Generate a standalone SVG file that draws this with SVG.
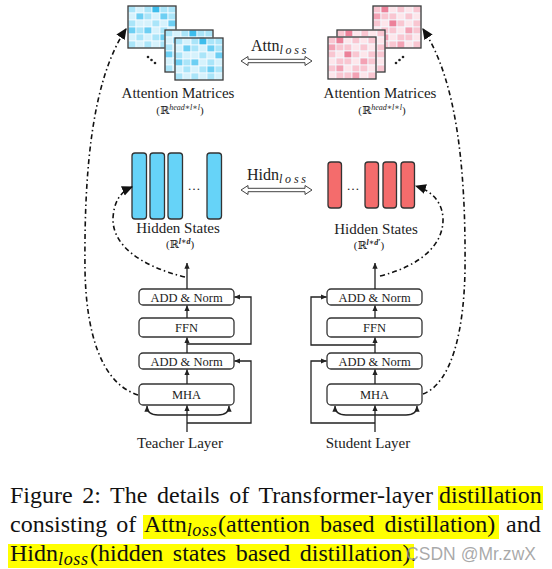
<svg xmlns="http://www.w3.org/2000/svg" width="552" height="569" viewBox="0 0 552 569">
<style>
.lbl{font-family:"Liberation Serif","DejaVu Serif",serif;fill:#222;}
.box{fill:#fff;stroke:#333;stroke-width:1.3;}
.bt{font-family:"Liberation Serif","DejaVu Serif",serif;font-size:12.5px;fill:#222;text-anchor:middle;}
.ln{fill:none;stroke:#222;stroke-width:1.3;}
.dd{fill:none;stroke:#111;stroke-width:1.6;stroke-dasharray:5 3 1.5 3;}
.bbar{fill:#66d3f8;stroke:#333;stroke-width:1.3;}
.rbar{fill:#f46c6c;stroke:#333;stroke-width:1.3;}
.cap{font-family:"Liberation Serif",serif;font-size:24px;fill:#111;}
.hl{fill:#ffff00;}
.dbl{fill:#fff;stroke:#444;stroke-width:1;}
.b0{fill:#d6f2fc}.b1{fill:#aae5f9}.b2{fill:#6dcff3}.b3{fill:#3dbdec}
.p0{fill:#fde6eb}.p1{fill:#f9c6d1}.p2{fill:#f3a2b4}.p3{fill:#ec8199}
.grid rect{stroke:#f2fbfe;stroke-width:0.8}
.mb{fill:none;stroke:#3a3a3a;stroke-width:1.3}
.dot{fill:#222}
</style>
<defs>
<symbol id="bm" viewBox="-1 -1 50 44">
<g class="grid">
<rect class="b1" x="0" y="0" width="8" height="7"/><rect class="b0" x="8" y="0" width="8" height="7"/><rect class="b1" x="16" y="0" width="8" height="7"/><rect class="b3" x="24" y="0" width="8" height="7"/><rect class="b1" x="32" y="0" width="8" height="7"/><rect class="b1" x="40" y="0" width="8" height="7"/>
<rect class="b0" x="0" y="7" width="8" height="7"/><rect class="b2" x="8" y="7" width="8" height="7"/><rect class="b1" x="16" y="7" width="8" height="7"/><rect class="b0" x="24" y="7" width="8" height="7"/><rect class="b2" x="32" y="7" width="8" height="7"/><rect class="b1" x="40" y="7" width="8" height="7"/>
<rect class="b1" x="0" y="14" width="8" height="7"/><rect class="b0" x="8" y="14" width="8" height="7"/><rect class="b0" x="16" y="14" width="8" height="7"/><rect class="b1" x="24" y="14" width="8" height="7"/><rect class="b0" x="32" y="14" width="8" height="7"/><rect class="b2" x="40" y="14" width="8" height="7"/>
<rect class="b2" x="0" y="21" width="8" height="7"/><rect class="b1" x="8" y="21" width="8" height="7"/><rect class="b2" x="16" y="21" width="8" height="7"/><rect class="b0" x="24" y="21" width="8" height="7"/><rect class="b1" x="32" y="21" width="8" height="7"/><rect class="b0" x="40" y="21" width="8" height="7"/>
<rect class="b0" x="0" y="28" width="8" height="7"/><rect class="b1" x="8" y="28" width="8" height="7"/><rect class="b0" x="16" y="28" width="8" height="7"/><rect class="b1" x="24" y="28" width="8" height="7"/><rect class="b2" x="32" y="28" width="8" height="7"/><rect class="b1" x="40" y="28" width="8" height="7"/>
<rect class="b1" x="0" y="35" width="8" height="7"/><rect class="b0" x="8" y="35" width="8" height="7"/><rect class="b1" x="16" y="35" width="8" height="7"/><rect class="b0" x="24" y="35" width="8" height="7"/><rect class="b1" x="32" y="35" width="8" height="7"/><rect class="b0" x="40" y="35" width="8" height="7"/>
</g>
<rect class="mb" x="0" y="0" width="48" height="42"/>
</symbol>
<symbol id="pm" viewBox="-1 -1 50 44">
<g class="grid">
<rect class="p1" x="0" y="0" width="8" height="7"/><rect class="p3" x="8" y="0" width="8" height="7"/><rect class="p0" x="16" y="0" width="8" height="7"/><rect class="p1" x="24" y="0" width="8" height="7"/><rect class="p0" x="32" y="0" width="8" height="7"/><rect class="p1" x="40" y="0" width="8" height="7"/>
<rect class="p2" x="0" y="7" width="8" height="7"/><rect class="p1" x="8" y="7" width="8" height="7"/><rect class="p1" x="16" y="7" width="8" height="7"/><rect class="p0" x="24" y="7" width="8" height="7"/><rect class="p1" x="32" y="7" width="8" height="7"/><rect class="p0" x="40" y="7" width="8" height="7"/>
<rect class="p1" x="0" y="14" width="8" height="7"/><rect class="p0" x="8" y="14" width="8" height="7"/><rect class="p3" x="16" y="14" width="8" height="7"/><rect class="p1" x="24" y="14" width="8" height="7"/><rect class="p0" x="32" y="14" width="8" height="7"/><rect class="p1" x="40" y="14" width="8" height="7"/>
<rect class="p0" x="0" y="21" width="8" height="7"/><rect class="p1" x="8" y="21" width="8" height="7"/><rect class="p1" x="16" y="21" width="8" height="7"/><rect class="p0" x="24" y="21" width="8" height="7"/><rect class="p2" x="32" y="21" width="8" height="7"/><rect class="p1" x="40" y="21" width="8" height="7"/>
<rect class="p1" x="0" y="28" width="8" height="7"/><rect class="p2" x="8" y="28" width="8" height="7"/><rect class="p0" x="16" y="28" width="8" height="7"/><rect class="p1" x="24" y="28" width="8" height="7"/><rect class="p1" x="32" y="28" width="8" height="7"/><rect class="p0" x="40" y="28" width="8" height="7"/>
<rect class="p0" x="0" y="35" width="8" height="7"/><rect class="p1" x="8" y="35" width="8" height="7"/><rect class="p1" x="16" y="35" width="8" height="7"/><rect class="p2" x="24" y="35" width="8" height="7"/><rect class="p0" x="32" y="35" width="8" height="7"/><rect class="p1" x="40" y="35" width="8" height="7"/>
</g>
<rect class="mb" x="0" y="0" width="48" height="42"/>
</symbol>
<marker id="ah" viewBox="0 0 8 8" refX="7.5" refY="4" markerWidth="6" markerHeight="6" markerUnits="userSpaceOnUse" orient="auto-start-reverse"><path d="M0,0.5 L8,4 L0,7.5 z" fill="#222"/></marker>
<marker id="ahb" viewBox="0 0 10 10" refX="9" refY="5" markerWidth="11" markerHeight="11" markerUnits="userSpaceOnUse" orient="auto"><path d="M0,0.5 L10,5 L0,9.5 z" fill="#111"/></marker>
</defs>
<rect width="552" height="569" fill="#fff"/>

<!-- Attention matrices -->
<g id="teacher-attention">
<use href="#bm" x="127" y="5" width="50" height="44"/>
<use href="#bm" x="164" y="29" width="50" height="44"/>
<use href="#bm" x="174" y="37" width="50" height="44"/>
<circle class="dot" cx="148" cy="57" r="1.3"/><circle class="dot" cx="151.5" cy="60" r="1.3"/><circle class="dot" cx="155" cy="63" r="1.3"/>
<text class="lbl" x="178" y="98" font-size="15" text-anchor="middle">Attention Matrices</text>
<text class="lbl" x="180" y="114" font-size="11" text-anchor="middle">(ℝ<tspan font-style="italic" font-size="8" dy="-4">head∗l∗l</tspan><tspan dy="4">)</tspan></text>
</g>
<g id="student-attention">
<use href="#pm" x="372" y="5" width="50" height="44"/>
<use href="#pm" x="336" y="29" width="50" height="44"/>
<use href="#pm" x="327" y="36" width="50" height="44"/>
<circle class="dot" cx="396" cy="63" r="1.3"/><circle class="dot" cx="399.5" cy="60" r="1.3"/><circle class="dot" cx="403" cy="57" r="1.3"/>
<text class="lbl" x="380" y="98" font-size="15" text-anchor="middle">Attention Matrices</text>
<text class="lbl" x="382" y="114" font-size="11" text-anchor="middle">(ℝ<tspan font-style="italic" font-size="8" dy="-4">head∗l∗l</tspan><tspan dy="4">)</tspan></text>
</g>

<!-- Hidden states -->
<g id="teacher-hidden">
<rect class="bbar" x="132" y="153" width="14.5" height="66" rx="3"/>
<rect class="bbar" x="150" y="153" width="14.5" height="66" rx="3"/>
<rect class="bbar" x="168" y="153" width="14.5" height="66" rx="3"/>
<rect class="bbar" x="207" y="153" width="14.5" height="66" rx="3"/>
<text class="lbl" x="194" y="190" font-size="13" text-anchor="middle">…</text>
<text class="lbl" x="178" y="233" font-size="15" text-anchor="middle">Hidden States</text>
<text class="lbl" x="180" y="248" font-size="11" text-anchor="middle">(ℝ<tspan font-style="italic" font-weight="bold" font-size="8" dy="-4">l∗d</tspan><tspan dy="4">)</tspan></text>
</g>
<g id="student-hidden">
<rect class="rbar" x="328" y="162" width="13.5" height="46" rx="3"/>
<rect class="rbar" x="365" y="162" width="13.5" height="46" rx="3"/>
<rect class="rbar" x="383" y="162" width="13.5" height="46" rx="3"/>
<rect class="rbar" x="401" y="162" width="13.5" height="46" rx="3"/>
<text class="lbl" x="353" y="190" font-size="13" text-anchor="middle">…</text>
<text class="lbl" x="376" y="234" font-size="15" text-anchor="middle">Hidden States</text>
<text class="lbl" x="369" y="249" font-size="11" text-anchor="middle">(ℝ<tspan font-style="italic" font-weight="bold" font-size="8" dy="-4">l∗d′</tspan><tspan dy="4">)</tspan></text>
</g>

<!-- Loss arrows -->
<g id="attn-loss">
<polygon class="dbl" points="241,61 248,56.5 248,59.3 305,59.3 305,56.5 312,61 305,65.5 305,62.7 248,62.7 248,65.5"/>
<text class="lbl" x="251" y="51" font-size="16">Attn<tspan font-style="italic" font-size="12" dy="3" textLength="27">loss</tspan></text>
</g>
<g id="hidn-loss">
<polygon class="dbl" points="241,190 248,185.5 248,188.3 305,188.3 305,185.5 312,190 305,194.5 305,191.7 248,191.7 248,194.5"/>
<text class="lbl" x="247" y="180" font-size="16">Hidn<tspan font-style="italic" font-size="12" dy="3" textLength="27">loss</tspan></text>
</g>

<!-- Teacher layer -->
<g id="t-add2"><rect class="box" x="139" y="289" width="95" height="16" rx="4"/><text class="bt" x="186.5" y="301.5">ADD &amp; Norm</text></g>
<g id="t-ffn"><rect class="box" x="139" y="318" width="95" height="19" rx="4"/><text class="bt" x="186.5" y="332">FFN</text></g>
<g id="t-add1"><rect class="box" x="139" y="353" width="95" height="16" rx="4"/><text class="bt" x="186.5" y="365.5">ADD &amp; Norm</text></g>
<g id="t-mha"><rect class="box" x="139" y="384" width="95" height="21" rx="4"/><text class="bt" x="186.5" y="399">MHA</text></g>
<text class="lbl" x="180" y="448" font-size="15" text-anchor="middle">Teacher Layer</text>

<!-- Student layer -->
<g id="s-add2"><rect class="box" x="327" y="289" width="95" height="16" rx="4"/><text class="bt" x="374.5" y="301.5">ADD &amp; Norm</text></g>
<g id="s-ffn"><rect class="box" x="327" y="318" width="95" height="19" rx="4"/><text class="bt" x="374.5" y="332">FFN</text></g>
<g id="s-add1"><rect class="box" x="327" y="353" width="95" height="16" rx="4"/><text class="bt" x="374.5" y="365.5">ADD &amp; Norm</text></g>
<g id="s-mha"><rect class="box" x="327" y="384" width="95" height="21" rx="4"/><text class="bt" x="374.5" y="399">MHA</text></g>
<text class="lbl" x="368" y="448" font-size="15" text-anchor="middle">Student Layer</text>

<!-- Connectors -->
<g id="connectors">
<path class="ln" d="M187,432 V405.5" marker-end="url(#ah)"/>
<path class="ln" d="M147,406 Q147,415 158,415 H218 Q229,415 229,406" marker-start="url(#ah)" marker-end="url(#ah)"/>
<path class="ln" d="M187,384 V369.5" marker-end="url(#ah)"/>
<path class="ln" d="M187,353 V337.5" marker-end="url(#ah)"/>
<path class="ln" d="M187,318 V305.5" marker-end="url(#ah)"/>
<path class="ln" d="M187,289 V263" marker-end="url(#ah)"/>
<path class="ln" d="M187,344 H251 V297 H234.5" marker-end="url(#ah)"/>
<path class="ln" d="M187,423 H251 V361 H234.5" marker-end="url(#ah)"/>

<path class="ln" d="M375,432 V405.5" marker-end="url(#ah)"/>
<path class="ln" d="M335,406 Q335,415 346,415 H406 Q417,415 417,406" marker-start="url(#ah)" marker-end="url(#ah)"/>
<path class="ln" d="M375,384 V369.5" marker-end="url(#ah)"/>
<path class="ln" d="M375,353 V337.5" marker-end="url(#ah)"/>
<path class="ln" d="M375,318 V305.5" marker-end="url(#ah)"/>
<path class="ln" d="M375,289 V263" marker-end="url(#ah)"/>
<path class="ln" d="M375,345 H311 V297 H326.5" marker-end="url(#ah)"/>
<path class="ln" d="M375,423 H311 V361 H326.5" marker-end="url(#ah)"/>

<path class="dd" d="M138,395 C100,383 86,330 85,270 C84,170 92,80 126,29" marker-end="url(#ahb)"/>
<path class="dd" d="M423,394 C452,383 464,330 465,270 C466,170 457,80 423,29" marker-end="url(#ahb)"/>
<path class="dd" d="M185,277 C140,266 112,245 113,218 C114,202 120,192 132,187" marker-end="url(#ahb)"/>
<path class="dd" d="M380,276 C420,266 444,245 443,218 C442,202 432,191 416,186" marker-end="url(#ahb)"/>
</g>

<!-- Caption -->
<g id="caption">
<rect class="hl" x="438" y="486" width="105" height="24"/>
<rect class="hl" x="143" y="515" width="356" height="24"/>
<rect class="hl" x="8" y="544" width="406" height="24"/>
<text class="cap" y="503"><tspan x="10" word-spacing="3.6">Figure 2: The details of Transformer-layer</tspan><tspan x="439">distillation</tspan></text>
<text class="cap" y="532"><tspan x="10" word-spacing="3">consisting of</tspan><tspan x="144">Attn</tspan><tspan font-style="italic" font-size="18" dy="4" textLength="30">loss</tspan><tspan dy="-4" x="218" word-spacing="4">(attention based distillation)</tspan><tspan x="506">and</tspan></text>
<text class="cap" y="561"><tspan x="10">Hidn</tspan><tspan font-style="italic" font-size="18" dy="4" textLength="30">loss</tspan><tspan dy="-4" x="90" word-spacing="3.5">(hidden states based distillation).</tspan></text>
<text font-family="Liberation Sans,Arial,sans-serif" font-size="17.5" fill="#9a9a9a" fill-opacity="0.85" x="406" y="560" textLength="130">CSDN @Mr.zwX</text>
</g>
</svg>
